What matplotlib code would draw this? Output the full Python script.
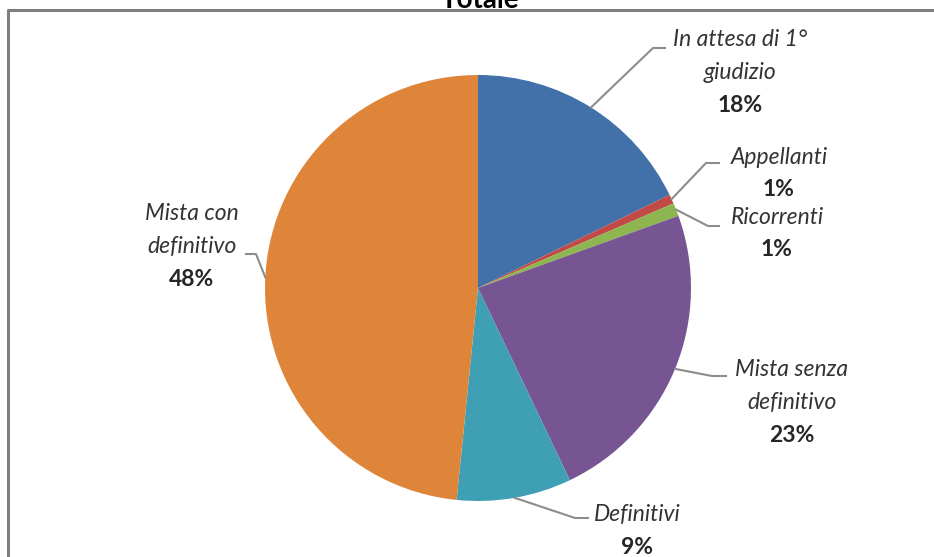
import matplotlib.pyplot as plt
import numpy as np

# ---------------- Data ----------------
title = "Totale"
labels = ["In attesa di 1°\ngiudizio", "Appellanti", "Ricorrenti",
          "Mista senza\ndefinitivo", "Definitivi", "Mista con\ndefinitivo"]
values = [17.8, 0.7, 1.0, 23.4, 8.7, 48.4]
colors = ["#4270A8", "#C24A46", "#8DB650", "#765592", "#3F9FB5", "#DF8539"]

# label layout in pixels (top-left origin): text center x, first line y,
# leader elbow, leader end
label_x = [740, 779, 777, 792, 637, 192]
label_y = [40, 157, 217, 370, 515, 214]
elbows = [(653, 48), (706, 163), (708, 226), (712, 376), (575, 518), (256, 254)]
ends = [(665, 48), (719, 163), (719, 226), (726, 376), (588, 518), (246, 254)]

W, H = 934, 557
LINE = 32.5  # px between lines
plt.rcParams['font.family'] = ['Lato', 'DejaVu Sans']

fig = plt.figure(figsize=(W / 100, H / 100), dpi=100)
ax = fig.add_axes([0, 0, 1, 1])

cx, cy, r = 478, H - 288, 213
wedges, _ = ax.pie(values, colors=colors, startangle=90, counterclock=False,
                   center=(cx, cy), radius=r, wedgeprops=dict(linewidth=0))
ax.set_xlim(0, W)
ax.set_ylim(0, H)
ax.set_aspect('equal')
ax.axis('off')

for i, w in enumerate(wedges):
    ang = np.deg2rad((w.theta1 + w.theta2) / 2)
    x0 = cx + r * np.cos(ang)
    y0 = cy + r * np.sin(ang)
    ex, ey = elbows[i]
    fx, fy = ends[i]
    ax.plot([x0, ex, fx], [y0, H - ey, H - fy], color="#8c8c8c", lw=1.5,
            solid_joinstyle='round')
    lines = labels[i].split("\n") + [f"{round(values[i])}%"]
    for k, s in enumerate(lines):
        last = k == len(lines) - 1
        ax.text(label_x[i], H - (label_y[i] + k * LINE), s, ha='center',
                va='center', fontsize=16.5,
                style='normal' if last else 'italic',
                fontweight='bold' if last else 'normal',
                color="#262626" if last else "#333333")

# chart border (only left and top visible in the crop)
ax.plot([7.5, 7.5, W], [0, H - 9.5, H - 9.5], color="#7f7f7f", lw=2.2,
        clip_on=False)

fig.text(480 / W, 1 - 8 / H, title, ha='center', va='baseline',
         fontsize=20, fontweight='bold', color="#000000")

fig.savefig("out.png", dpi=100)
